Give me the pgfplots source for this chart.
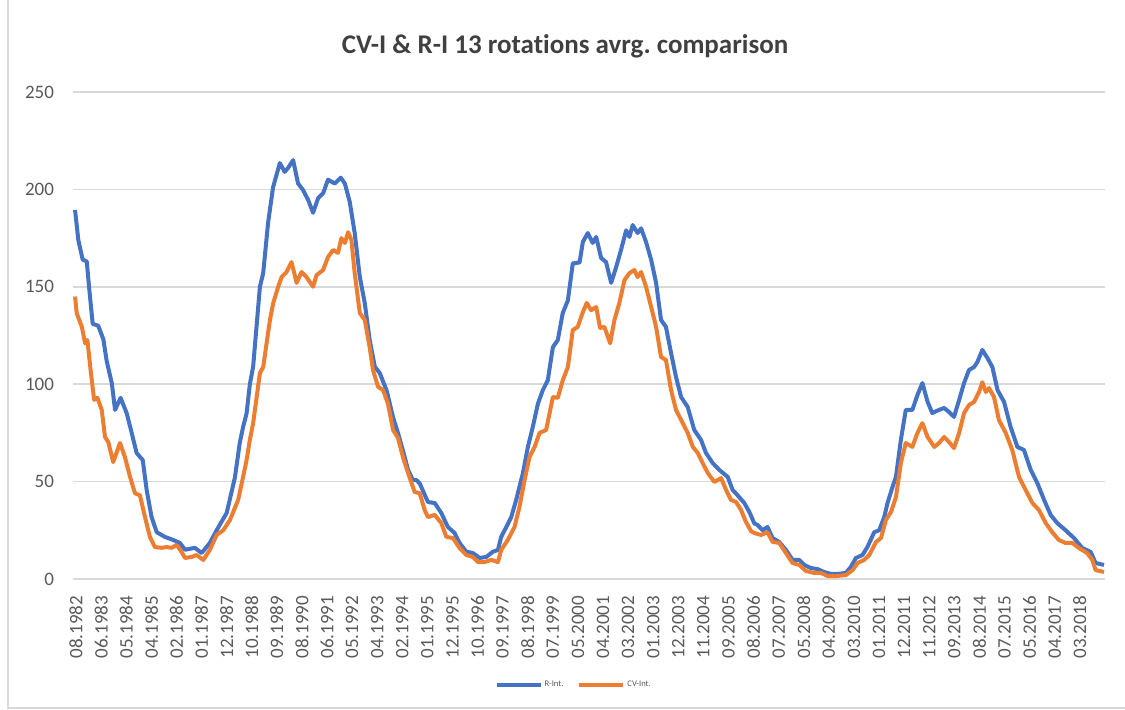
\documentclass[border=0pt]{standalone}
\usepackage{fontspec}
\setmainfont{Carlito}[Ligatures={NoCommon}]
\usepackage{pgfplots}
\usepackage{pgfplotstable}
\pgfplotsset{compat=1.18}
\frenchspacing
\definecolor{rblue}{HTML}{4472C4}
\definecolor{cvorange}{HTML}{ED7D31}
\definecolor{gridgray}{HTML}{D9D9D9}
\definecolor{labgray}{HTML}{595959}

\pgfplotstableread{
x y
0 189.4
1.6 174
3.7 164
5.7 163
7.0 148
8.6 131
11.3 130
13.8 123
15.4 112
17.9 100.6
19.5 86.8
22.2 93
25.2 85
27.6 75
30.0 64.7
33.0 61
34.9 45.7
37.3 31.8
39.8 24
43.8 21.6
47.9 20
51.1 18.5
53.6 15
58.4 16
61.7 13.3
65.7 18.5
69.0 25
73.9 33.9
77.9 52
80.3 70
81.9 78
83.6 85
85.2 100
86.8 109
90.1 150
91.7 157
94.1 183
96.5 201
99.8 213.5
102.2 209
103.8 211
106.3 215
108.7 203
111.1 199.7
113.6 194.6
116.0 188
118.5 195.6
120.9 198
123.3 205
126.6 203
129.5 206
131.5 203
133.9 193.5
136.3 177.6
138.8 155
141.2 141.7
143.6 122.7
146.1 109
148.5 105.7
151.8 97
155.0 83
157.4 74.9
159.8 66
162.3 56
164.7 50.8
166.4 50.8
168.0 49
172.0 39.5
175.3 39
178.5 33.9
181.7 26.7
185.0 23.6
187.4 18.5
190.7 14
193.9 13.3
197.2 10.8
200.4 11.3
203.7 14
206.1 14.9
207.7 21.6
210.2 26.7
212.6 31.8
215.0 40.6
218.3 54.4
220.7 67.8
223.1 78
225.6 90
228.0 97
230.4 102
232.9 119
235.3 122.7
237.7 136.5
240.2 143
242.6 162
245.9 162.5
247.5 173
249.9 177.6
252.3 172.5
254.0 175.6
256.4 164.8
258.8 162.7
261.3 152
263.7 160
266.1 168.9
268.6 179
270.2 175.6
271.8 181.7
274.2 177.6
275.9 180
278.3 173
280.8 163.8
283.2 152
285.6 133
288.0 129.4
290.5 116
292.9 103.7
295.4 93.4
298.6 88.3
301.8 76.5
305.1 71.4
307.5 64.7
310.8 59.5
314.0 56
318.1 52.4
320.5 45.7
322.9 43
326.2 39
328.6 34.5
331.1 28.5
332.7 27.7
335.1 25
337.5 26.7
340.0 21
343.2 19
346.5 14.9
349.7 9.8
353.0 9.8
355.4 7.2
358.7 5.6
361.9 5.1
365.1 3.6
368.4 2.6
371.6 2.6
375.7 3.1
378.1 6.2
380.6 10.8
383.8 12.3
386.2 16.4
389.5 24
391.9 25
394.4 31.8
396.0 39
398.4 47.2
400.1 52.4
402.5 71.4
404.9 86.8
408.1 86.8
410.6 94.5
413.0 100.6
415.5 91
417.8 85.2
421.1 86.8
423.6 87.8
426.0 85.7
428.4 83.2
430.9 91.9
433.3 100.6
435.7 107.3
438.2 108.8
439.8 111.4
442.2 117.6
444.7 113.4
447.1 108.8
449.6 97
452.8 90.9
456.0 78
459.3 67.8
462.5 66.2
465.8 56
469.0 49.3
472.3 40.6
475.5 32.9
478.7 28.7
482.8 25
486.9 21
490.9 15.9
495.0 13.9
497.4 8.2
501.5 7.2
}\rint

\pgfplotstableread{
x y
0 145
0.8 136.5
3.3 129.4
4.9 121
6.0 122.7
7.6 107
9.3 92
10.9 93
13.0 86.8
14.6 72.9
16.2 70.3
18.6 60
21.9 69.8
24.3 62.6
26.8 52.4
29.2 44
31.6 43
34.1 31.8
36.5 21.6
38.9 16.4
42.2 16
44.6 16.4
47.1 16
49.5 17.5
51.9 13.9
53.6 10.8
56.8 11.3
59.2 12.3
62.5 9.8
65.7 14.9
69.0 22.6
72.2 25
75.5 30.3
79.5 40.6
81.9 52.4
83.6 61
85.2 71.4
86.8 80
90.1 105.7
91.7 108.8
95.0 133
96.6 141.7
99.0 150
100.7 155
103.1 157.6
105.5 162.7
108.0 152
110.4 157.6
112.8 155
116.0 150
117.7 156
120.9 158.6
123.3 165.3
125.8 168.9
128.2 167.4
129.8 175
131.5 172.5
133.1 178
134.7 174
136.3 157
138.8 136.5
141.2 133
143.6 119
145.2 107.3
147.7 98.6
150.1 97
152.5 90
155.0 76.5
157.4 72.4
159.8 62.6
162.3 54.4
164.7 47.2
165.5 44.7
168.0 44
170.4 35.4
172.0 31.8
175.3 32.9
178.5 28.7
181.0 21.6
184.2 21
187.4 15.9
190.7 12.3
193.9 11.3
196.4 8.7
199.6 8.7
202.9 9.8
206.1 8.7
207.7 14.9
210.9 20
214.2 26.7
216.6 37
219.1 50.8
221.5 62.6
224.0 67.8
226.4 75
229.6 76.5
232.9 93.4
235.3 93
237.7 102
240.2 108.8
242.6 127.8
245.0 129.4
247.5 137
249.4 141.7
251.5 138
254.0 139.6
255.9 128.9
258.0 129.4
260.8 121
262.9 133
265.3 141.7
267.8 153.5
270.2 157
272.6 158.6
274.2 155
275.9 157.6
278.3 150
280.8 139.6
283.2 129.4
285.6 114
288.0 112.4
290.5 97
292.9 86.8
296.2 80
298.6 75
301.1 67.8
303.5 64.7
305.9 59.5
308.4 54.4
311.6 49.8
314.9 51.8
317.3 45.7
319.7 40.6
322.2 39.5
324.6 35.4
327.0 29.3
329.5 24.5
331.1 23.6
334.3 22.6
337.5 24
340.0 19
343.2 18.5
346.5 13.3
349.7 8.2
353.0 7.2
356.2 4.1
360.3 3.1
363.6 3.1
366.8 1.5
370.9 1.5
375.7 2
379.0 4.6
381.4 8.2
384.6 9.8
387.1 12.3
390.4 19
392.8 21
395.2 30.3
397.7 34.4
400.1 42
402.5 59.5
404.9 69.8
408.1 67.8
410.6 75
413.0 80
415.5 72.9
418.8 67.8
421.1 69.8
423.6 72.9
426.0 70.3
428.4 67.2
430.9 75
433.3 85.2
435.7 89.3
438.2 90.9
440.6 96
442.2 101
443.9 96
445.5 98
447.9 93.4
450.3 81.6
453.6 75
456.8 66.2
460.1 52.4
463.3 45.7
466.6 39
469.8 35.4
473.1 28.7
476.3 24
479.5 20
482.8 18.5
486.0 18.5
489.3 15.9
493.3 13.3
495.8 9.8
497.4 4.6
501.5 3.6
}\cvint

\begin{document}
\begin{tikzpicture}
\path[use as bounding box] (0pt,0pt) rectangle (562.5pt,355pt);
\draw[gridgray, line width=0.6pt] (4pt,355pt) -- (4pt,1pt) -- (562.5pt,1pt);
\begin{axis}[
  anchor=south west, at={(36.5pt,65.5pt)},
  scale only axis, width=516pt, height=243.5pt,
  xmin=-1, xmax=502, ymin=0, ymax=250,
  ytick={0,50,...,250},
  xtick={0.5,12.73,...,490},
  xticklabels={08.1982,06.1983,05.1984,04.1985,02.1986,01.1987,12.1987,10.1988,09.1989,08.1990,06.1991,05.1992,04.1993,02.1994,01.1995,12.1995,10.1996,09.1997,08.1998,07.1999,05.2000,04.2001,03.2002,01.2003,12.2003,11.2004,09.2005,08.2006,07.2007,05.2008,04.2009,03.2010,01.2011,12.2011,11.2012,09.2013,08.2014,07.2015,05.2016,04.2017,03.2018},
  axis line style={draw=none},
  axis x line*=bottom,
  major tick length=0pt,
  ymajorgrids, grid style={gridgray, line width=0.75pt},
  /pgf/number format/assume math mode=true,
  tick label style={font=\fontsize{9.5}{11}\selectfont, text=labgray},
  xticklabel style={rotate=90, anchor=east},
  xtick style={draw=none}, ytick style={draw=none},
  xticklabel shift=5pt,
  yticklabel shift=6pt,
  legend columns=2,
  legend style={draw=none, fill=none, at={(0.4855,-0.2177)}, anchor=center,
    font=\fontsize{4.3}{5}\selectfont, text=labgray,
    nodes={inner xsep=1.2pt},
    /tikz/every even column/.append style={column sep=6pt}},
  legend image code/.code={\draw[#1, line width=1.6pt] (0pt,0pt) -- (22pt,0pt);},
]
\draw[gridgray, line width=0.75pt] (axis cs:-1,0) -- (axis cs:502,0);
\addplot[rblue, line width=2pt, line join=round] table[x=x,y=y]{\rint};
\addlegendentry{R-Int.}
\addplot[cvorange, line width=2pt, line join=round] table[x=x,y=y]{\cvint};
\addlegendentry{CV-Int.}
\end{axis}
\node[font=\fontsize{13.5}{15}\selectfont\bfseries, text={rgb,255:red,64;green,64;blue,64}] at (282.5pt,332pt) {CV-I \& R-I 13 rotations avrg. comparison};
\end{tikzpicture}
\end{document}
